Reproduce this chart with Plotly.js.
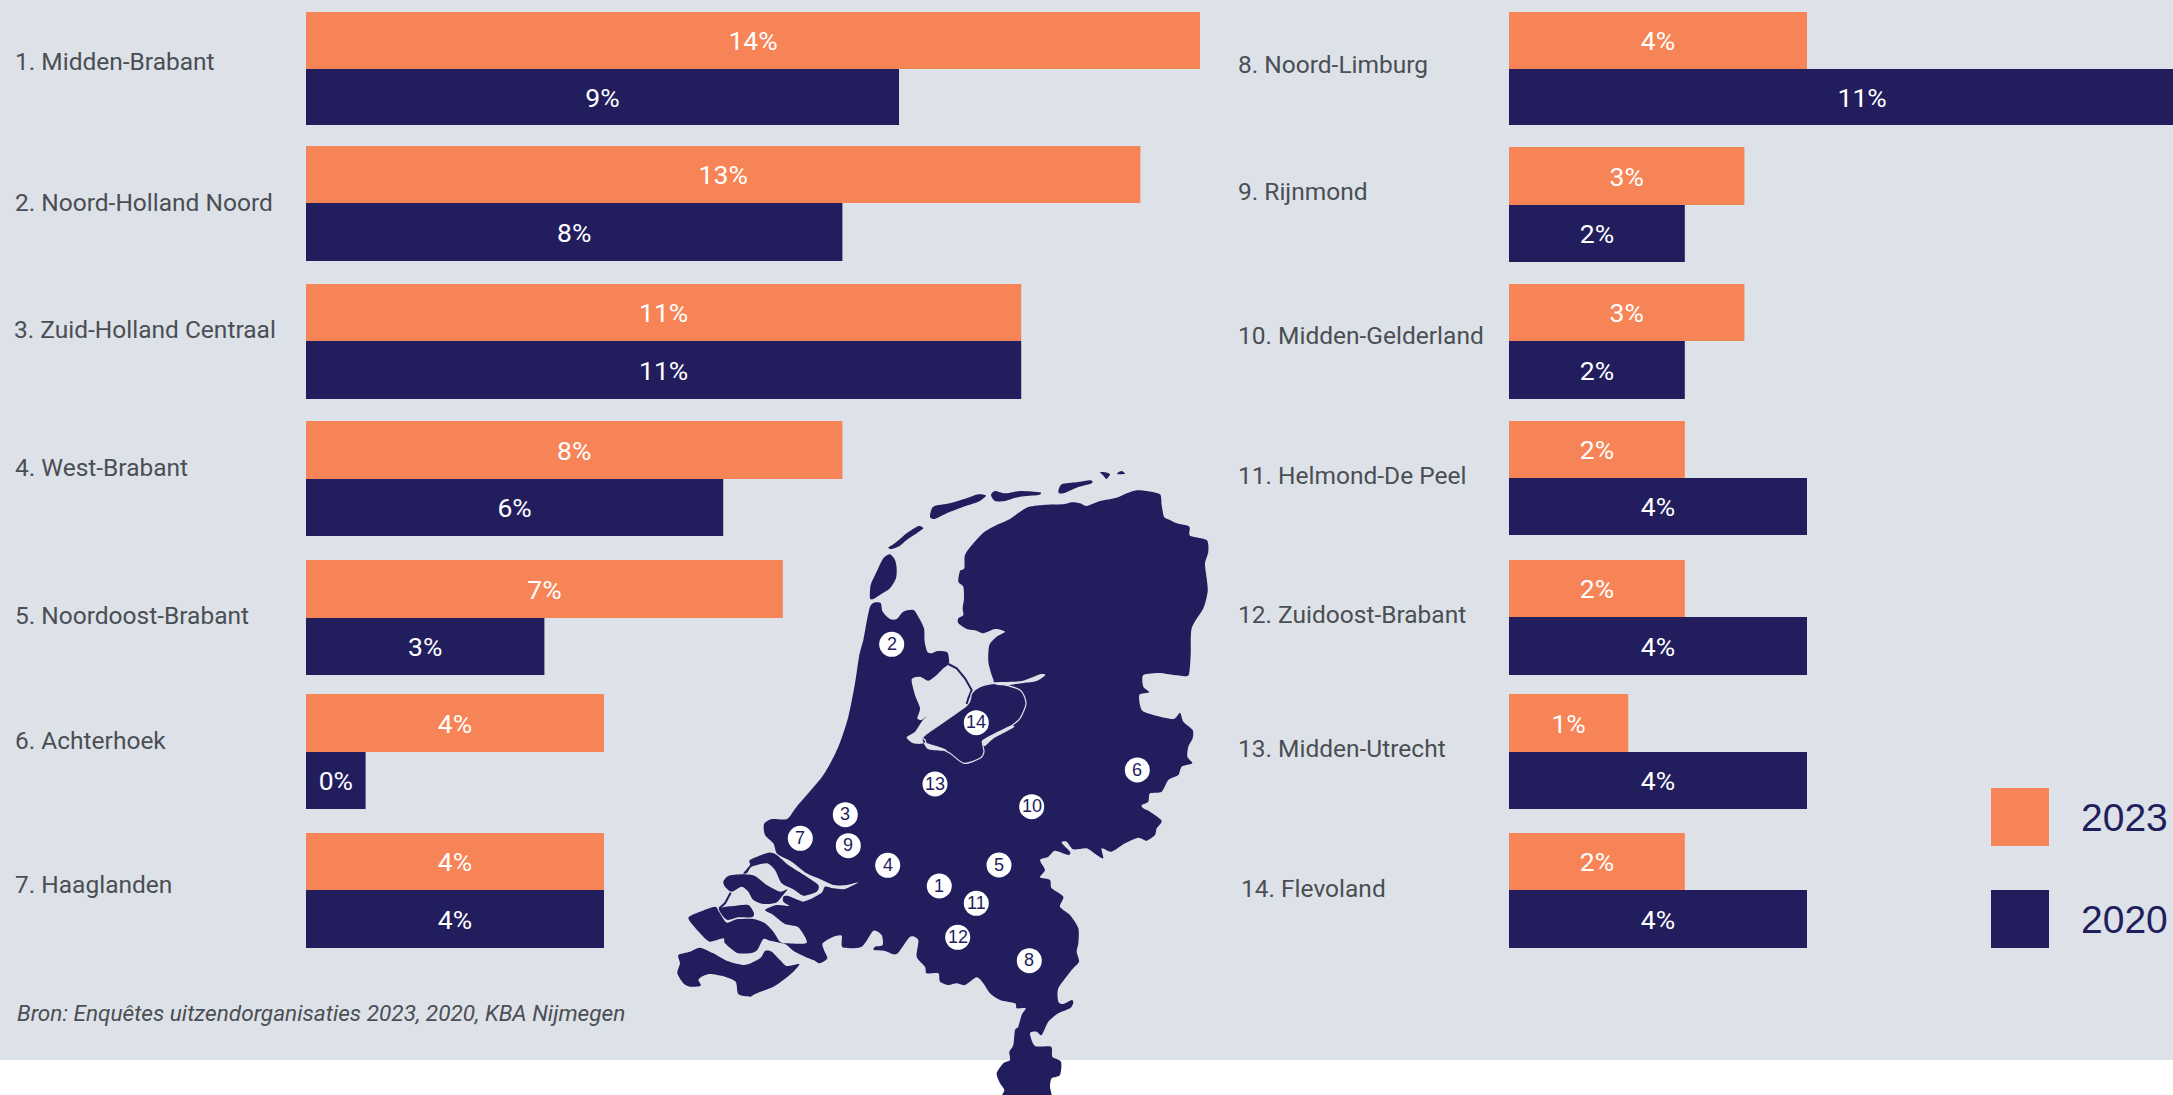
<!DOCTYPE html>
<html><head><meta charset="utf-8">
<script src="https://cdn.plot.ly/plotly-3.0.1.min.js"></script>
<style>html,body{margin:0;padding:0;background:#fff;overflow:hidden}</style>
</head><body><div id="chart" style="width:2173px;height:1095px"></div>
<script>
// ---------- data ----------
const regionsLeft  = ["1. Midden-Brabant","2. Noord-Holland Noord","3. Zuid-Holland Centraal","4. West-Brabant","5. Noordoost-Brabant","6. Achterhoek","7. Haaglanden"];
const regionsRight = ["8. Noord-Limburg","9. Rijnmond","10. Midden-Gelderland","11. Helmond-De Peel","12. Zuidoost-Brabant","13. Midden-Utrecht","14. Flevoland"];
// printed percentages
const label2023Left  = [14,13,11,8,7,4,4];
const label2020Left  = [9,8,11,6,3,0,4];
const label2023Right = [4,3,3,2,2,1,2];
const label2020Right = [11,2,2,4,4,4,4];
// bar lengths (the drawn steps do not equal the printed percent)
const length2023Left  = [15,14,12,9,8,5,5];
const length2020Left  = [9.95,9,12,7,4,1,5];
const length2023Right = [5,3.95,3.95,2.95,2.95,2,2.95];
const length2020Right = [11.85,2.95,2.95,5,5,5,5];

// ---------- page geometry ----------
const W = 2173, H = 1095;
const UNIT = 59.6, X0L = 306, X0R = 1509;
const topL = [12,146,284,421,560,694,833], midL = [69,203,341,479,618,752,890], botL = [125,261,399,536,675,809,948];
const topR = [12,147,284,421,560,694,833], midR = [69,205,341,478,617,752,890], botR = [125,262,399,535,675,809,948];
const labelYL = [61,202,329,467,615,740,884];
const labelYR = [65,192,335,475,614,748,888];
const NAVY = "#221e5e", ORANGE = "#f78456", PANEL = "#dde2e9", GREY = "#4b4e53";
const FONT = "Roboto, 'Liberation Sans', sans-serif";

const px = x => x / W, py = y => 1 - y / H;
const pct = a => a.map(v => v + "%");
const centre = (a, b) => a.map((v, i) => (v + b[i]) / 2);
const thick = (a, b) => a.map((v, i) => b[i] - v);

function barTrace(name, color, lens, labels, a, b, xa) {
  return {type:"bar", orientation:"h", name, x:lens, y:centre(a,b), width:thick(a,b), xaxis:xa, yaxis:"y",
    text:pct(labels), textposition:"inside", insidetextanchor:"middle", textangle:0, constraintext:"none",
    textfont:{family:FONT,size:26.5,color:"#fff"}, marker:{color,line:{width:0}}, hoverinfo:"skip", showlegend:false, cliponaxis:true};
}
const traces = [
  barTrace("2023",ORANGE,length2023Left,label2023Left,topL,midL,"x"),
  barTrace("2020",NAVY,length2020Left,label2020Left,midL,botL,"x"),
  barTrace("2023",ORANGE,length2023Right,label2023Right,topR,midR,"x2"),
  barTrace("2020",NAVY,length2020Right,label2020Right,midR,botR,"x2")
];

// ---------- map of the Netherlands (decorative outline) ----------
function t(x0,y0,a,s){ s=s||3; const o=[]; for(let i=0;i<a.length;i+=2) o.push([x0+a[i]/s,y0+a[i+1]/s]); return o; }
const A=a=>t(850,465,a), B=a=>t(960,465,a), C=a=>t(780,640,a), D=a=>t(1040,640,a), E=a=>t(915,800,a), F=a=>t(670,840,a);
const mainland = [].concat(
 A([60,425,72,413,92,414,98,440,120,462,140,462,160,440,190,435,205,455,222,490,224,530,232,560,245,565,262,558,292,562,297,595]),
 C([490,85,470,105,445,122,420,110,395,118,405,165,420,205,412,235,425,240,440,228,425,245,405,275,380,292,400,310,430,310,435,285,560,197,575,160,600,140,640,128]),
 A([425,630,415,590,418,540,440,515,465,500,435,492,400,505,380,497,350,492,325,475,325,460,340,450,338,430,342,400,340,365,325,350,330,318,343,310,345,270,370,235,400,203,440,180,480,162,530,128,580,120,640,118,665,112,690,115,710,123]),
 B([420,108,470,98,500,85,530,76,560,78,600,88,605,120,612,155,630,165,650,175,688,185,690,212,740,225,745,260,735,295,740,340,743,380,730,430,695,490,692,570,686,630,660,632,625,628,600,624,550,630,550,665,568,682,538,690,545,735,580,750,640,762]),
 D([420,218,430,245,458,270,458,295,445,320,442,350,457,370,425,380,415,405,385,420,365,455,330,460,325,485,305,495,310,505,330,515,365,542]),
 E([725,85,720,105,695,122,670,113,630,130,590,155,560,145,565,175,545,165,515,145,475,148,455,125,440,128,465,155,460,165,420,152,400,170,375,180,390,210,375,232,405,240,410,265,445,290,435,320,465,345,490,385,490,430,485,455,492,485,470,510,430,565,430,605,445,612,470,600,475,608,465,625,430,640,400,665,380,705,365,695,345,700,360,738,408,740,412,770,438,785,435,825,410,835,405,860,410,885,405,900,265,900,268,870,255,850,245,820,265,790,285,780,283,755,295,735,300,690,310,680,320,645,332,625,305,625,300,610,255,600,225,580,205,550,185,532,150,555,125,550,100,555,75,545,70,520,35,520,30,500,5,470,10,420]),
 F([720,290,680,342,645,333,612,330,615,320,638,315,635,285,610,272,575,320,518,322,515,287,490,290,458,310,462,330,472,355,450,370,430,360,405,350,370,332,345,312,300,302,280,297,262,330,240,340,200,338,165,310,160,295,120,305,95,285,55,235,90,215,135,200,147,215,170,248,200,238,250,237,285,250,310,275,330,305,350,310,410,308,385,262,345,252,310,225,285,210,320,195,358,198,340,185,340,170,355,168,385,180,400,185,420,178,455,158,465,140,490,145,525,147,565,127,530,135,490,135,445,115,410,100,365,65,322,42,310,10]),
 t(0,0,[765,835,764,824,772,819,787,819],1),
 C([50,500,130,405,175,320,205,230,225,130,238,45,250,0]),
 A([50,470])
);
const islands = [
 A([60,400,62,360,80,320,100,280,120,268,135,285,140,310,138,340,120,370,90,390,70,402]),
 A([115,248,130,238,150,222,170,205,205,183,220,190,200,205,170,225,150,242,125,252]),
 A([240,155,250,125,300,115,350,100,385,88,408,92,385,110,340,125,290,145,255,162]),
 A([423,90,435,78,465,85,510,78,570,82,565,90,510,95,465,108,435,108]),
 A([625,82,635,58,680,52,722,46,725,55,680,68,640,85]),
 B([420,22,435,22,450,28,440,42,430,32]),
 B([472,24,485,18,495,26,475,28]),
 F([25,345,60,335,90,323,130,340,170,362,225,375,270,355,285,333,305,335,330,360,350,378,388,372,370,395,340,420,310,440,255,462,240,470,205,462,197,425,165,410,120,402,95,410,85,420,92,437,60,440,40,430,22,400,30,370]),
 F([147,205,190,198,235,195,252,220,245,232,205,232,175,240,160,230]),
 F([160,125,175,108,215,103,255,108,290,135,330,155,352,148,335,170,318,188,280,192,250,180,235,155,215,140,185,155,165,140]),
 F([240,60,295,38,320,45,355,75,410,110,445,135,440,155,400,167,370,148,335,130,315,90,290,70,245,80,232,98,220,100,240,75])
];
const flevoland = C([435,285,560,197,575,160,600,140,650,130,720,150,738,190,720,235,690,260,640,285,608,305,612,335,600,355,552,370,510,340,480,325,445,318,435,300]);
const water = [
 C([606,302,640,282,690,258,702,262,640,296,614,318]),
 B([100,652,185,648,240,628,256,630,230,648,190,654,150,660,112,660]),
 C([432,308,470,318,500,330,480,332,445,328])
];
const dikes = [
 C([505,72,530,85,555,115,575,150,565,175,560,192]),
 F([182,158,165,190,148,205])
];
// closed curve through the traced points (Catmull-Rom, mild tension)
function smooth(p){
  const q=p.map(c=>[px(c[0]),py(c[1])]), n=q.length, k=0.12;
  let d=`M${q[0][0]},${q[0][1]}`;
  for(let i=0;i<n;i++){
    const p0=q[(i-1+n)%n],p1=q[i],p2=q[(i+1)%n],p3=q[(i+2)%n];
    d+=`C${p1[0]+(p2[0]-p0[0])*k},${p1[1]+(p2[1]-p0[1])*k} ${p2[0]-(p3[0]-p1[0])*k},${p2[1]-(p3[1]-p1[1])*k} ${p2[0]},${p2[1]}`;
  }
  return d+"Z";
}
const open = p => p.map((c,i)=>(i?"L":"M")+px(c[0])+","+py(c[1])).join("");
const paperShape = o => Object.assign({xref:"paper",yref:"paper",layer:"below"},o);
const shapes = [
  paperShape({type:"rect",x0:0,x1:1,y0:py(1060),y1:1,fillcolor:PANEL,line:{width:0}}),
  paperShape({type:"path",path:smooth(mainland),fillcolor:NAVY,line:{width:0}})
];
islands.forEach(p=>shapes.push(paperShape({type:"path",path:smooth(p),fillcolor:NAVY,line:{width:0}})));
dikes.forEach(p=>shapes.push(paperShape({type:"path",path:open(p),line:{color:NAVY,width:2}})));
shapes.push(paperShape({type:"path",path:smooth(flevoland),fillcolor:NAVY,line:{color:PANEL,width:1.2}}));
water.forEach(p=>shapes.push(paperShape({type:"path",path:smooth(p),fillcolor:PANEL,line:{width:0}})));

// region number markers on the map
const markerNo = ["1","2","3","4","5","6","7","8","9","10","11","12","13","14"];
const markerX = [939.3,891.7,845.3,887.7,999,1137.3,800.3,1029.3,848.3,1031.7,976.3,957.7,935,976.3];
const markerY = [886,644.3,814.7,865.3,865,770,838.3,960.7,845.7,806.7,903.3,937.3,784,722.7];
const annotations = [];
const text = (x,y,s,size,color,anchor,extra) => annotations.push(Object.assign({xref:"paper",yref:"paper",x:px(x),y:py(y),text:s,showarrow:false,
   xanchor:anchor||"left",yanchor:"middle",align:"left",borderpad:0,font:{family:FONT,size,color}},extra||{}));
markerNo.forEach((n,i)=>{
  shapes.push(paperShape({type:"circle",x0:px(markerX[i]-12.5),x1:px(markerX[i]+12.5),y0:py(markerY[i]+12.5),y1:py(markerY[i]-12.5),fillcolor:"#fff",line:{width:0}}));
  text(markerX[i],markerY[i]-0.5,n,18,NAVY,"center",{font:{family:"'Liberation Sans', sans-serif",size:18,color:NAVY}});
});
// row labels
const labelXL=[14,14,13,14,14,14,14], labelXR=[1237,1237,1237,1237,1237,1237,1240];
regionsLeft.forEach((s,i)=>text(labelXL[i],labelYL[i],s,24.5,GREY));
regionsRight.forEach((s,i)=>text(labelXR[i],labelYR[i],s,24.5,GREY));
// source
text(16,1013,"<i>Bron: Enquêtes uitzendorganisaties 2023, 2020, KBA Nijmegen</i>",22.6,GREY);
// key
[["2023",ORANGE,788,846],["2020",NAVY,890,948]].forEach(k=>{
  shapes.push(paperShape({type:"rect",x0:px(1991),x1:px(2049),y0:py(k[3]),y1:py(k[2]),fillcolor:k[1],line:{width:0}}));
  text(2080,(k[2]+k[3])/2+0.5,k[0],39,NAVY,"left",{font:{family:"'Liberation Sans', sans-serif",size:39,color:NAVY}});
});

const layout = {
  width:W,height:H,autosize:false,margin:{l:0,r:0,t:0,b:0,pad:0},
  paper_bgcolor:"#fff",plot_bgcolor:"rgba(0,0,0,0)",barmode:"overlay",showlegend:false,
  xaxis:{domain:[px(X0L),px(X0L+16*UNIT)],range:[0,16],visible:false,fixedrange:true},
  xaxis2:{domain:[px(X0R),1],range:[0,(W-X0R)/UNIT],visible:false,fixedrange:true,anchor:"y"},
  yaxis:{domain:[0,1],range:[H,0],visible:false,fixedrange:true},
  shapes,annotations
};
Plotly.newPlot("chart",traces,layout,{displayModeBar:false,staticPlot:true});
</script></body></html>
